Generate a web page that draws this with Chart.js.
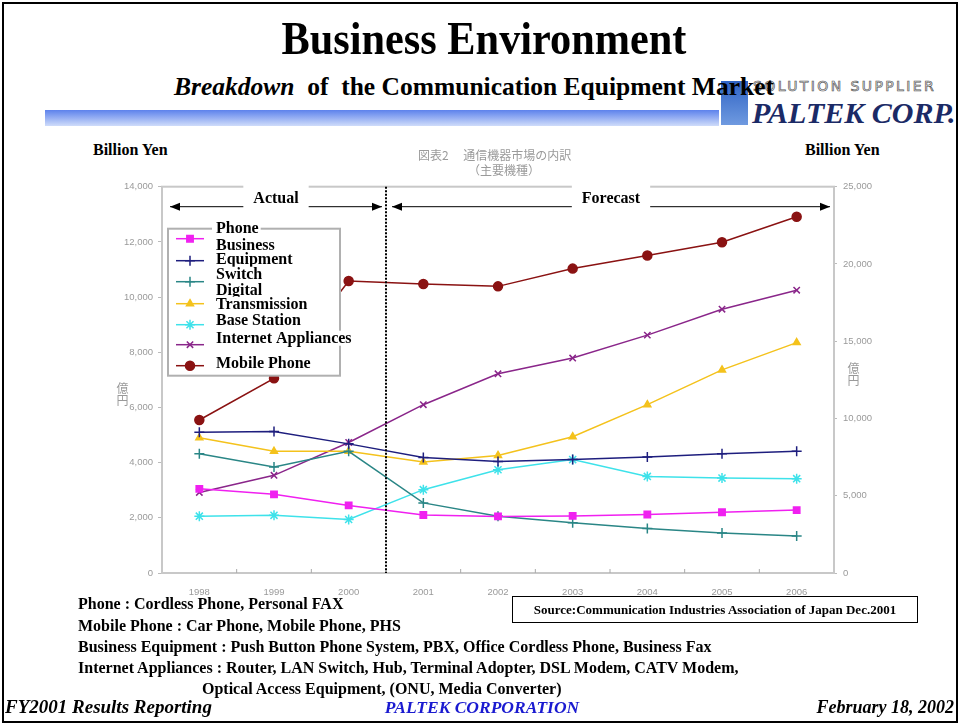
<!DOCTYPE html>
<html>
<head>
<meta charset="utf-8">
<script src="https://cdn.jsdelivr.net/npm/chart.js@4.4.1/dist/chart.umd.min.js"></script>
<style>
    html, body { margin: 0; padding: 0; background: #fff; }
    body { width: 960px; height: 725px; position: relative; overflow: hidden; font-family: 'Liberation Serif', serif; }
    .abs { position: absolute; white-space: nowrap; }
    #frame { left: 2px; top: 2px; width: 952px; height: 717px; border: 2px solid #000; }
    #title { left: 4px; width: 960px; top: 12px; text-align: center; font-size: 46px; font-weight: bold; transform: scaleX(0.92); }
    #subtitle { left: -6px; width: 960px; top: 72px; text-align: center; font-size: 25.5px; font-weight: bold; z-index: 3; }
    #bar { left: 45px; top: 110px; width: 674px; height: 16px; background: linear-gradient(#5d82ec, #cfdcfa); }
    #logoIcon { left: 721px; top: 81px; width: 27px; height: 44px; background: linear-gradient(#2f63c4, #6f9ae0); }
    #logoTop { left: 753px; top: 78px; font-family: 'DejaVu Sans', sans-serif; font-size: 14px; letter-spacing: 2.4px; color: #fff; -webkit-text-stroke: 0.7px #555; }
    #logoMain { left: 752px; top: 96px; font-size: 30px; font-weight: bold; font-style: italic; color: #1b2a66; letter-spacing: 0px; }
    .unit { font-size: 16px; font-weight: bold; top: 141px; }
    .jp { font-family: 'Noto Sans CJK JP', sans-serif; color: #9a9a9a; font-size: 12px; filter: blur(0.4px); }
    #chartBox { left: 100px; top: 175px; width: 800px; height: 425px; }
    .note { font-size: 16px; font-weight: bold; left: 78px; }
    #source { left: 512px; top: 596px; width: 404px; height: 25px; border: 1.5px solid #000; font-size: 13px; font-weight: bold; line-height: 25px; text-align: center; }
    .foot { top: 696px; font-size: 19px; font-weight: bold; font-style: italic; }
</style>
</head>
<body>
<div id="frame" class="abs"></div>
<div id="title" class="abs">Business Environment</div>
<div id="bar" class="abs"></div>
<div id="logoIcon" class="abs"></div>
<div id="logoTop" class="abs">SOLUTION SUPPLIER</div>
<div id="logoMain" class="abs">PALTEK CORP.</div>
<div id="subtitle" class="abs"><i>Breakdown</i>&nbsp; of&nbsp; the Communication Equipment Market</div>

<div class="abs unit" style="left:93px;">Billion Yen</div>
<div class="abs unit" style="left:805px;">Billion Yen</div>
<div class="abs jp" style="left:418px; top:146px;">図表2　 通信機器市場の内訳</div>
<div class="abs jp" style="left:468px; top:161px;">（主要機種）</div>
<div class="abs jp" style="left:114px; top:382px; writing-mode: vertical-rl;">億円</div>
<div class="abs jp" style="left:845px; top:362px; writing-mode: vertical-rl;">億円</div>

<div id="chartBox" class="abs"><canvas id="chart-canvas"></canvas></div>

<div class="abs note" style="top:595px;">Phone : Cordless Phone, Personal FAX</div>
<div class="abs note" style="top:617px;">Mobile Phone : Car Phone, Mobile Phone, PHS</div>
<div class="abs note" style="top:638px;">Business Equipment : Push Button Phone System, PBX, Office Cordless Phone, Business Fax</div>
<div class="abs note" style="top:659px;">Internet Appliances : Router, LAN Switch, Hub, Terminal Adopter, DSL Modem, CATV Modem,</div>
<div class="abs note" style="top:680px; left:202px;">Optical Access Equipment, (ONU, Media Converter)</div>
<div id="source" class="abs">Source:Communication Industries Association of Japan Dec.2001</div>

<div class="abs foot" style="left:5px;">FY2001 Results Reporting</div>
<div class="abs foot" style="left:2px; width:960px; text-align:center; color:#1a1ad0; font-size:17.5px; top:697px;">PALTEK CORPORATION</div>
<div class="abs foot" style="right:6px; font-size:18px; top:697px;">February 18, 2002</div>

<script>
// Categories (fiscal years)
const years = ['1998', '1999', '2000', '2001', '2002', '2003', '2004', '2005', '2006'];

// Left axis series (100 million yen)
const phone = [3050, 2850, 2450, 2100, 2050, 2070, 2120, 2200, 2280];
const businessEquipment = [5100, 5130, 4680, 4190, 4040, 4110, 4200, 4320, 4410];
const switchEquipment = [4320, 3840, 4410, 2540, 2060, 1820, 1610, 1450, 1340];
const digitalTransmission = [4900, 4410, 4410, 4020, 4260, 4940, 6100, 7360, 8350];
const baseStation = [2060, 2090, 1940, 3020, 3740, 4110, 3500, 3440, 3420];
const internetAppliances = [2920, 3540, 4730, 6100, 7220, 7790, 8620, 9560, 10250];

// Right axis series
const mobilePhone = [9900, 12600, 18900, 18700, 18550, 19700, 20550, 21400, 23050];

// Legend text as it appears on the slide (some labels wrap)
const legendLines = [
    ['Phone'],
    ['Business', 'Equipment'],
    ['Switch'],
    ['Digital', 'Transmission'],
    ['Base Station'],
    ['Internet Appliances'],
    ['Mobile Phone']
];

const phaseLabels = ['Actual', 'Forecast'];

function series(label, data, color, pointStyle, radius, axis) {
    return {
        label: label,
        data: data,
        yAxisID: axis || 'y',
        borderColor: color,
        backgroundColor: color,
        borderWidth: 1.5,
        pointStyle: pointStyle,
        pointRadius: radius,
        pointBorderWidth: 1.5,
        tension: 0
    };
}

// Frame, inward x ticks, divider, phase arrows and the slide legend
const slideDecor = {
    id: 'slideDecor',
    beforeDatasetsDraw(chart) {
        const ctx = chart.ctx;
        const ca = chart.chartArea;
        ctx.save();
        ctx.strokeStyle = '#c8c8c8';
        ctx.lineWidth = 2;
        ctx.strokeRect(ca.left, ca.top, ca.right - ca.left, ca.bottom - ca.top);
        // small tick marks between categories, pointing inward
        const x = chart.scales.x;
        ctx.strokeStyle = '#aaa';
        ctx.lineWidth = 1;
        for (let i = 1; i < years.length; i++) {
            const px = (x.getPixelForValue(i - 1) + x.getPixelForValue(i)) / 2;
            ctx.beginPath();
            ctx.moveTo(px, ca.bottom);
            ctx.lineTo(px, ca.bottom - 4);
            ctx.stroke();
        }
        ctx.restore();
    },
    afterDatasetsDraw(chart) {
        const ctx = chart.ctx;
        const ca = chart.chartArea;
        const x = chart.scales.x;
        const divX = (x.getPixelForValue(2) + x.getPixelForValue(3)) / 2;
        ctx.save();

        // dotted divider between actual and forecast
        ctx.strokeStyle = '#000';
        ctx.lineWidth = 2;
        ctx.setLineDash([2, 1.5]);
        ctx.beginPath();
        ctx.moveTo(divX, ca.top);
        ctx.lineTo(divX, ca.bottom);
        ctx.stroke();
        ctx.setLineDash([]);

        // phase arrows
        const ay = ca.top + 20;
        const spans = [[ca.left + 8, divX - 4], [divX + 6, ca.right - 4]];
        spans.forEach((s, i) => {
            ctx.strokeStyle = '#000';
            ctx.fillStyle = '#000';
            ctx.lineWidth = 1;
            ctx.beginPath();
            ctx.moveTo(s[0], ay);
            ctx.lineTo(s[1], ay);
            ctx.stroke();
            [[s[0], 1], [s[1], -1]].forEach(([px, dir]) => {
                ctx.beginPath();
                ctx.moveTo(px, ay);
                ctx.lineTo(px + dir * 10, ay - 4);
                ctx.lineTo(px + dir * 10, ay + 4);
                ctx.closePath();
                ctx.fill();
            });
            const mid = (s[0] + s[1]) / 2;
            ctx.font = 'bold 16px "Liberation Serif"';
            const w = ctx.measureText(phaseLabels[i]).width + 20;
            ctx.fillStyle = '#fff';
            ctx.fillRect(mid - w / 2, ca.top - 3, w, 25);
            ctx.fillStyle = '#000';
            ctx.textAlign = 'center';
            ctx.textBaseline = 'middle';
            ctx.fillText(phaseLabels[i], mid, ca.top + 12);
        });

        // legend box
        const lx = ca.left + 6, ly = ca.top + 42;
        ctx.fillStyle = '#fff';
        ctx.fillRect(lx, ly, 172, 147);
        ctx.strokeStyle = '#b0b0b0';
        ctx.lineWidth = 2;
        ctx.strokeRect(lx, ly, 172, 147);

        const sampleY = [10, 32, 53, 75, 96, 116, 137];
        const textY = [[0], [17, 31], [46], [62, 76], [92], [110], [135]];
        chart.data.datasets.forEach((ds, i) => {
            const sy = ly + sampleY[i];
            ctx.strokeStyle = ds.borderColor;
            ctx.lineWidth = 1.5;
            ctx.beginPath();
            ctx.moveTo(lx + 8, sy);
            ctx.lineTo(lx + 36, sy);
            ctx.stroke();
            ctx.fillStyle = ds.backgroundColor;
            Chart.helpers.drawPoint(ctx, {
                pointStyle: ds.pointStyle,
                radius: ds.pointRadius,
                borderWidth: 1.5,
                rotation: 0
            }, lx + 22, sy);

            ctx.font = 'bold 16px "Liberation Serif"';
            ctx.textAlign = 'left';
            ctx.textBaseline = 'middle';
            legendLines[i].forEach((line, j) => {
                const ty = ly + textY[i][j];
                const tw = ctx.measureText(line).width;
                ctx.fillStyle = '#fff';
                ctx.fillRect(lx + 44, ty - 8, tw + 6, 15);
                ctx.fillStyle = '#000';
                ctx.fillText(line, lx + 48, ty);
            });
        });
        ctx.restore();
    }
};

const tickFont = { family: 'Liberation Sans', size: 9.5 };
const tickColor = '#9a9a9a';

const ctx = document.getElementById('chart-canvas');
const chart = new Chart(ctx, {
    type: 'line',
    data: {
        labels: years,
        datasets: [
            series('Phone', phone, '#f020f0', 'rect', 4.5),
            series('Business Equipment', businessEquipment, '#1e1e7e', 'cross', 5),
            series('Switch', switchEquipment, '#2a8686', 'cross', 5),
            series('Digital Transmission', digitalTransmission, '#f4c21c', 'triangle', 4),
            series('Base Station', baseStation, '#3ee2ea', 'star', 5),
            series('Internet Appliances', internetAppliances, '#8a268a', 'crossRot', 4.5),
            series('Mobile Phone', mobilePhone, '#8a1212', 'circle', 4.5, 'y1')
        ]
    },
    options: {
        responsive: true,
        maintainAspectRatio: false,
        animation: false,
        layout: { padding: { top: 10, left: 0, right: 0, bottom: 0 } },
        plugins: {
            legend: { display: false },
            tooltip: { enabled: false }
        },
        scales: {
            x: {
                offset: true,
                grid: { display: false },
                border: { display: false },
                ticks: { color: tickColor, font: tickFont, padding: 6 },
                afterFit: (s) => { s.height = 27; }
            },
            y: {
                position: 'left',
                min: 0,
                max: 14000,
                ticks: {
                    stepSize: 2000,
                    color: tickColor,
                    font: tickFont,
                    padding: 5,
                    callback: (v) => v.toLocaleString('en-US')
                },
                grid: { drawOnChartArea: false, drawTicks: true, tickLength: 4, color: '#bbb' },
                border: { display: false },
                afterFit: (s) => { s.width = 62; }
            },
            y1: {
                position: 'right',
                min: 0,
                max: 25000,
                ticks: {
                    stepSize: 5000,
                    color: tickColor,
                    font: tickFont,
                    padding: 6,
                    callback: (v) => v.toLocaleString('en-US')
                },
                grid: { drawOnChartArea: false, drawTicks: true, tickLength: 3, color: '#bbb' },
                border: { display: false },
                afterFit: (s) => { s.width = 66; }
            }
        }
    },
    plugins: [slideDecor]
});
</script>
</body>
</html>
